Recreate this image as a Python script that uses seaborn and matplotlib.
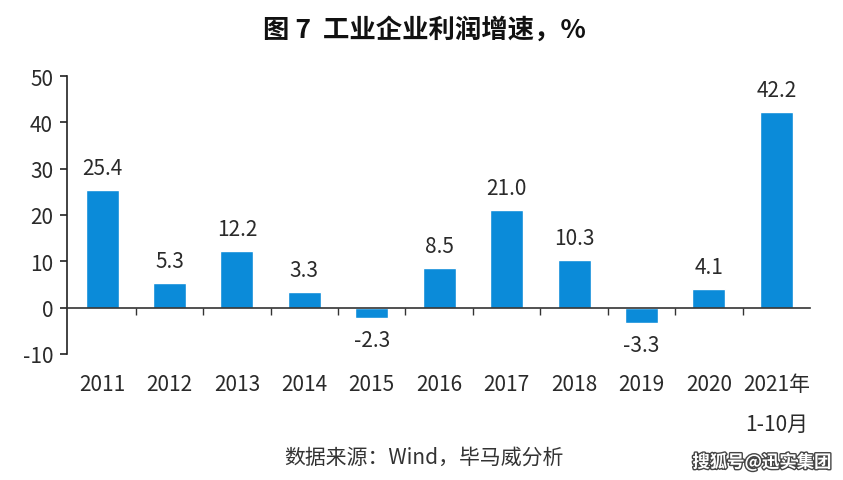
import matplotlib
matplotlib.use("Agg")
import matplotlib.pyplot as plt
import matplotlib.patheffects as pe
import seaborn as sns
import pandas as pd

categories = ["2011", "2012", "2013", "2014", "2015", "2016", "2017", "2018", "2019", "2020", "2021年\n1-10月"]
values = [25.4, 5.3, 12.2, 3.3, -2.3, 8.5, 21.0, 10.3, -3.3, 4.1, 42.2]
yticks = [-10, 0, 10, 20, 30, 40, 50]
title = "图 7  工业企业利润增速，%"
source = "数据来源：Wind，毕马威分析"
watermark = "搜狐号@迅实集团"

sns.set_theme(style="white")
plt.rcParams['font.family'] = ['Noto Sans CJK SC', 'DejaVu Sans']

df = pd.DataFrame({"cat": categories, "val": values})

fig = plt.figure(figsize=(8.43, 4.81), dpi=100)
ax = fig.add_axes([67/843, 1-355/481, (810-67)/843, (355-77)/481])

sns.barplot(data=df, x="cat", y="val", color="#0B8BD9", saturation=1, width=0.49, ax=ax)

ax.set_ylim(-10, 50)
ax.set_xlim(-0.52, len(categories) - 0.5)
ax.set_yticks(yticks)
ax.set_yticklabels([str(t) for t in yticks], fontsize=15, color="#2a2a2a")
ax.set_xlabel("")
ax.set_ylabel("")

for s in ["top", "right"]:
    ax.spines[s].set_visible(False)
ax.spines["left"].set_color("#222222")
ax.spines["left"].set_linewidth(1.2)
ax.spines["bottom"].set_position(("data", 0))
ax.spines["bottom"].set_color("#333333")
ax.spines["bottom"].set_linewidth(1.2)

ax.tick_params(axis="y", which="major", direction="out", length=5, width=1.2, color="#222222", left=True, pad=5)
ax.set_xticks(range(len(categories)))
ax.set_xticklabels(categories, fontsize=15, color="#2a2a2a", linespacing=2.05, va="top")
ax.tick_params(axis="x", which="major", length=0, pad=47)
ax.set_xticks([i + 0.5 for i in range(len(categories) - 1)], minor=True)
ax.tick_params(axis="x", which="minor", direction="out", length=5, width=1, color="#333333", bottom=True)

for c in ax.containers:
    ax.bar_label(c, labels=[f"{v:.1f}" for v in values], padding=8, fontsize=15, color="#2a2a2a")

fig.text(0.504, 1-30/481, title, ha="center", va="center", fontsize=19, fontweight="bold", color="#111111")
fig.text(0.503, 1-458/481, source, ha="center", va="center", fontsize=15, color="#333333")
fig.text(762/843, 1-463/481, watermark, ha="center", va="center", fontsize=12.5, color="white",
         fontweight="bold",
         path_effects=[pe.withStroke(linewidth=2, foreground="#444444")])

fig.savefig("out.png", dpi=100)
